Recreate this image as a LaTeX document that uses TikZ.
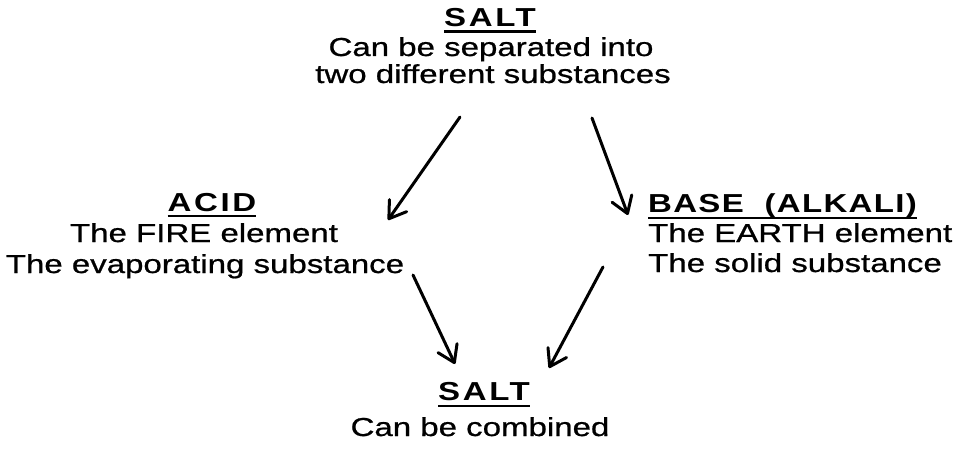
\documentclass[tikz,border=0pt]{standalone}
\usepackage{fontspec}
\setmainfont{Liberation Sans}[FakeStretch=1.27,UprightFeatures={FakeBold=0.8}]
\usetikzlibrary{arrows.meta}
\begin{document}
\begin{tikzpicture}[x=1pt,y=-1pt,
  every node/.style={inner sep=0pt},
  txt/.style={anchor=base,font=\fontsize{26}{29}\selectfont},
  head/.style={anchor=base,font=\fontsize{26}{29}\selectfont\bfseries\addfontfeature{LetterSpace=10}},
  ul/.style={line width=2.6pt},
  arr/.style={line width=3pt,line cap=round,-{Straight Barb[length=16pt,width=21pt,round]}}]
\useasboundingbox (0,0) rectangle (957,449);
% top salt
\node[head] (salt1) at (490,27) {SALT};
\node[txt] (sep1) at (491,56) {Can be separated into};
\node[txt] (sep2) at (493,83) {two different substances};
% acid
\node[head] (acid) at (212,211) {ACID};
\node[txt] (fire) at (204,242) {The FIRE element};
\node[txt] (evap) at (205,273) {The evaporating substance};
% base
\node[head,anchor=base west,font=\fontsize{26}{29}\selectfont\bfseries\addfontfeature{LetterSpace=5}] (base) at (648,212) {BASE\hspace{.8em}(ALKALI)};
\node[txt,anchor=base west] (earth) at (648,242) {The EARTH element};
\node[txt,anchor=base west] (solid) at (648,272) {The solid substance};
% bottom salt
\node[head] (salt2) at (484,400) {SALT};
\node[txt] (comb) at (480,436) {Can be combined};
% underlines
\draw[ul] ([yshift=-4.5pt]salt1.base west) -- ([yshift=-4.5pt]salt1.base east);
\draw[ul] ([yshift=-5pt]acid.base west) -- ([yshift=-5pt]acid.base east);
\draw[ul] ([yshift=-6pt]base.base west) -- ([yshift=-6pt]base.base east);
\draw[ul] ([yshift=-6pt]salt2.base west) -- ([yshift=-6pt]salt2.base east);
% arrows
\coordinate (a1s) at (460,117);
\coordinate (a1e) at (388,220);
\coordinate (a2s) at (592,118);
\coordinate (a2e) at (628,215);
\coordinate (a3s) at (413,275);
\coordinate (a3e) at (455,364);
\coordinate (a4s) at (603,267);
\coordinate (a4e) at (549,368);
\draw[arr] (a1s) -- (a1e);
\draw[arr] (a2s) -- (a2e);
\draw[arr] (a3s) -- (a3e);
\draw[arr] (a4s) -- (a4e);
\end{tikzpicture}
\end{document}
